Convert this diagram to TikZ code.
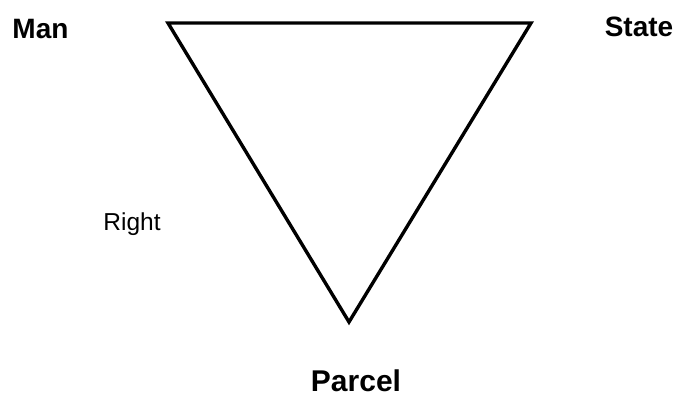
\documentclass[tikz,border=0pt]{standalone}
\usepackage{fontspec}
\setmainfont{Liberation Sans}
\begin{document}
\begin{tikzpicture}[x=1pt,y=-1pt,
  lbl/.style={inner sep=0pt,anchor=base,font=\bfseries\fontsize{28}{30}\selectfont},
  edge/.style={line width=3.4pt,line join=miter}]
\useasboundingbox (0,0) rectangle (679,396);
\coordinate (tl) at (168,23);
\coordinate (tr) at (531,23);
\coordinate (bt) at (349,322);
\draw[edge] (tl) -- (tr) -- (bt) -- cycle;
\node[lbl] (man) at (40.5,39) {Man};
\node[lbl] (state) at (639,37) {State};
\node[lbl,font=\fontsize{24.5}{26}\selectfont] (right) at (132,230) {Right};
\node[lbl,font=\bfseries\fontsize{30}{32}\selectfont] (parcel) at (356,391) {Parcel};
\end{tikzpicture}
\end{document}
